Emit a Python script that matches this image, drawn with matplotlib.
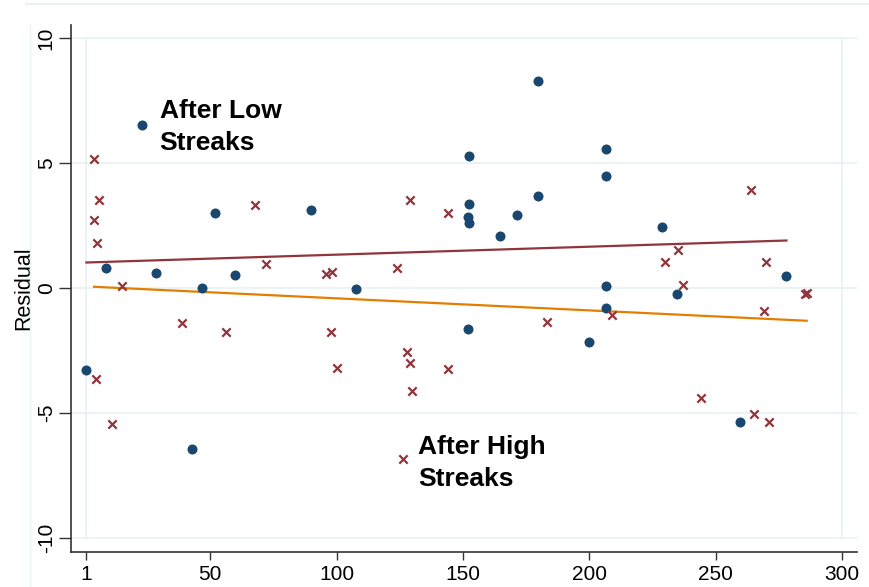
import numpy as np
import matplotlib
matplotlib.use("Agg")
import matplotlib.pyplot as plt
from matplotlib.lines import Line2D

plt.rcParams['font.family'] = ['Liberation Sans', 'DejaVu Sans']

# after low streaks (dots)
low_x = [23, 52, 8.6, 28.4, 46.6, 59.8, 0.7, 42.6, 179.5, 152.5, 89.7, 152.5, 179.5,
         152.1, 152.5, 171.5, 164.6, 107.6, 151.8, 199.8, 206.7, 206.7, 206.7, 206.7,
         228.7, 234.8, 277.9, 259.6]
low_y = [6.52, 2.99, 0.81, 0.61, -0.01, 0.52, -3.28, -6.44, 8.28, 5.28, 3.12, 3.35, 3.67,
         2.83, 2.62, 2.93, 2.09, -0.03, -1.65, -2.16, 5.55, 4.47, 0.09, -0.80,
         2.43, -0.23, 0.47, -5.36]

# after high streaks (crosses)
high_x = [4.0, 5.9, 4.0, 5.0, 67.7, 71.9, 14.9, 4.9, 11.2, 38.8, 56.1, 129, 144, 96, 98,
          124, 97.7, 183.1, 100.1, 127.8, 129, 129.9, 144, 126.1, 264, 235, 230, 270,
          236.9, 285.5, 286.2, 269, 209, 244.2, 265, 271]
high_y = [5.16, 3.51, 2.71, 1.81, 3.32, 0.96, 0.08, -3.64, -5.44, -1.39, -1.77, 3.51, 3.01,
          0.55, 0.63, 0.81, -1.77, -1.35, -3.2, -2.55, -2.99, -4.13, -3.24, -6.83, 3.93,
          1.51, 1.04, 1.04, 0.12, -0.25, -0.21, -0.92, -1.08, -4.39, -5.04, -5.36]

# fitted lines (end points)
fit_a_x = [1, 278]
fit_a_y = [1.02, 1.90]
fit_b_x = [4, 286]
fit_b_y = [0.05, -1.31]

xticks = [1, 50, 100, 150, 200, 250, 300]
yticks = [-10, -5, 0, 5, 10]

navy = '#1a476f'
maroon = '#90353b'
orange = '#e37e00'
grid = '#eaf2f3'

fig = plt.figure(figsize=(8.7, 5.87), dpi=100)
ax = fig.add_axes([0.0816, 0.0596, 0.9034, 0.8978])

for v in yticks:
    ax.axhline(v, color=grid, lw=1.3, zorder=0)
for v in [xticks[0], xticks[-1]]:
    ax.plot([v, v], [yticks[0], yticks[-1]], color=grid, lw=1.3, zorder=0)

ax.plot(fit_a_x, fit_a_y, color=maroon, lw=1.6, zorder=2)
ax.plot(fit_b_x, fit_b_y, color=orange, lw=1.6, zorder=2)
ax.scatter(low_x, low_y, s=52, color=navy, zorder=3, linewidths=0)
ax.scatter(high_x, high_y, s=36, marker='x', color=maroon, linewidths=1.6, zorder=3)

ax.text(30, 6.45, "After Low\nStreaks", fontsize=19, fontweight='bold',
        va='center', ha='left', linespacing=1.4)
ax.text(132.3, -7.0, "After High\nStreaks", fontsize=19, fontweight='bold',
        va='center', ha='left', linespacing=1.4)

ax.set_xlim(-5.1, 305.9)
ax.set_ylim(-10.56, 10.52)
ax.set_xticks(xticks)
ax.set_yticks(yticks)
ax.set_yticklabels([str(v) for v in yticks], rotation=90, va='center')
ax.tick_params(axis='both', labelsize=15, width=1, color='#333333')
ax.tick_params(axis='x', length=6, pad=3)
ax.tick_params(axis='y', length=9, pad=2)
ax.set_ylabel("Residual", fontsize=15.5, labelpad=2)

for s in ['top', 'right']:
    ax.spines[s].set_visible(False)
for s in ['left', 'bottom']:
    ax.spines[s].set_color('#333333')
    ax.spines[s].set_linewidth(1.2)

fig.add_artist(Line2D([0.03, 1.0], [0.994, 0.994], color=grid, lw=1.5))
fig.add_artist(Line2D([0.034, 0.034], [0.0, 0.957], color=grid, lw=1.0))

fig.savefig("out.png", dpi=100)
